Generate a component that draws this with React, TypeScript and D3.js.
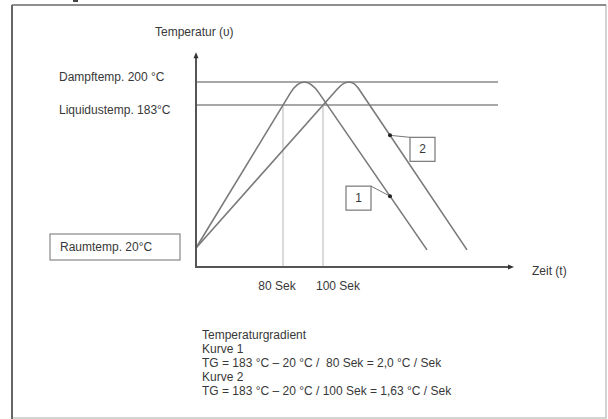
import React from "react";
import * as d3 from "d3";

// ---- data (schematic reflow profile) ----
const timeTicks = [80, 100];
const timeTickLabels = ["80 Sek", "100 Sek"];
const levelTemps = [200, 183];
const levelLabels = ["Dampftemp. 200 °C", "Liquidustemp. 183°C"];
const roomTemp = 20;
const roomLabel = "Raumtemp. 20°C";
const curveIds = ["1", "2"];
const curveStart: [number, number][] = [[0, 20], [0, 20]];
const curveApex: [number, number][] = [[90.4, 208.2], [113.3, 205.0]];
const curveEnd: [number, number][] = [[152, 18], [172, 18]];
const curvePeakTemp = [200, 200];
const markerTime = [133.5, 133.5];
const textLines = [
  "Temperaturgradient",
  "Kurve 1",
  "TG = 183 °C – 20 °C /  80 Sek = 2,0 °C / Sek",
  "Kurve 2",
  "TG = 183 °C – 20 °C / 100 Sek = 1,63 °C / Sek",
];
const axisTimeMax = 195.5;
const axisTempMax = 222;
const levelTimeMax = 187.5;

const W = 608;
const H = 419;

const x = d3.scaleLinear().domain([0, 80, 100, 200]).range([196, 283, 323, 523]);
const y = d3.scaleLinear().domain([0, 20, 183, 200]).range([267, 248, 105, 82]);

function curvePath(i: number): string {
  const s: [number, number] = [x(curveStart[i][0]), y(curveStart[i][1])];
  const a: [number, number] = [x(curveApex[i][0]), y(curveApex[i][1])];
  const e: [number, number] = [x(curveEnd[i][0]), y(curveEnd[i][1])];
  const yPeak = y(curvePeakTemp[i]);
  const Y = 2 * yPeak - a[1];
  const onLine = (p: [number, number], q: [number, number], yy: number): [number, number] => {
    const t = (yy - p[1]) / (q[1] - p[1]);
    return [p[0] + (q[0] - p[0]) * t, yy];
  };
  const b1 = onLine(s, a, Y);
  const b2 = onLine(a, e, Y);
  const p = d3.path();
  p.moveTo(s[0], s[1]);
  p.lineTo(b1[0], b1[1]);
  p.quadraticCurveTo(a[0], a[1], b2[0], b2[1]);
  p.lineTo(e[0], e[1]);
  return p.toString();
}

function markerPos(i: number): [number, number] {
  const a: [number, number] = [x(curveApex[i][0]), y(curveApex[i][1])];
  const e: [number, number] = [x(curveEnd[i][0]), y(curveEnd[i][1])];
  const mx = x(markerTime[i]);
  const t = (mx - a[0]) / (e[0] - a[0]);
  return [mx, a[1] + (e[1] - a[1]) * t];
}

const boxOffsets: [number, number][] = [[-44, -10], [20, 2]];
const boxAnchor: [number, number][] = [[25, 0], [0, 0]];

export default function App() {
  const font = "'Liberation Sans', Arial, sans-serif";
  const txt = "#383838";
  const x0 = x(0);
  const y0 = y(0);
  const xEnd = x(axisTimeMax);
  const yTop = y(axisTempMax);
  return (
    <svg width={W} height={H} style={{ position: "absolute", left: 0, top: 0, background: "#fff" }} fontFamily={font}>
      {/* frame */}
      <rect x={12} y={5} width={594} height={413} fill="none" stroke="#aaa" strokeWidth={1} />
      <line x1={12} y1={5} x2={12} y2={419} stroke="#666" strokeWidth={2} />
      <line x1={12} y1={5} x2={606} y2={5} stroke="#777" strokeWidth={1.5} />
      <rect x={73} y={0} width={5} height={2} fill="#444" />

      {/* level lines */}
      {levelTemps.map((t, i) => (
        <line key={"l" + i} x1={x0} x2={x(levelTimeMax)} y1={y(t)} y2={y(t)} stroke="#8a8a8a" strokeWidth={1.6} />
      ))}
      {/* vertical time markers */}
      {timeTicks.map((t, i) => (
        <line key={"v" + i} x1={x(t)} x2={x(t)} y1={y(183)} y2={y0} stroke="#b5b5b5" strokeWidth={1} />
      ))}

      {/* curves */}
      {curveIds.map((id, i) => (
        <path key={"c" + id} d={curvePath(i)} fill="none" stroke="#7a7a7a" strokeWidth={1.6} />
      ))}

      {/* axes */}
      <line x1={x0} y1={y0} x2={x0} y2={yTop + 4} stroke="#555" strokeWidth={2} />
      <path d={`M${x0},${yTop} L${x0 - 2.5},${yTop + 6} L${x0 + 2.5},${yTop + 6} Z`} fill="#333" />
      <line x1={x0 - 1} y1={y0} x2={xEnd - 4} y2={y0} stroke="#555" strokeWidth={2} />
      <path d={`M${xEnd},${y0} L${xEnd - 6},${y0 - 2.5} L${xEnd - 6},${y0 + 2.5} Z`} fill="#333" />

      {/* markers and callouts */}
      {curveIds.map((id, i) => {
        const [mx, my] = markerPos(i);
        const bx = mx + boxOffsets[i][0];
        const by = my + boxOffsets[i][1];
        return (
          <g key={"m" + id}>
            <line x1={bx + boxAnchor[i][0]} y1={by + boxAnchor[i][1]} x2={mx} y2={my} stroke="#777" strokeWidth={1} />
            <circle cx={mx} cy={my} r={2} fill="#222" />
            <rect x={bx} y={by} width={25} height={24} fill="#fff" stroke="#777" strokeWidth={1.2} />
            <text x={bx + 12.5} y={by + 16} textAnchor="middle" fontSize={12} fill={txt}>{id}</text>
          </g>
        );
      })}

      {/* axis titles */}
      <text x={155} y={36} fontSize={12} fill={txt}>Temperatur (υ)</text>
      <text x={532} y={275} fontSize={12} fill={txt}>Zeit (t)</text>

      {/* level labels */}
      {levelLabels.map((l, i) => (
        <text key={"ll" + i} x={59} y={y(levelTemps[i]) + (i === 0 ? -1 : 9)} fontSize={12} fill={txt}>{l}</text>
      ))}

      {/* room temp box */}
      <rect x={50} y={234} width={130} height={26} fill="#fff" stroke="#888" strokeWidth={1.2} />
      <text x={60} y={y(roomTemp) + 3} fontSize={12} fill={txt}>{roomLabel}</text>

      {/* time labels */}
      {timeTickLabels.map((l, i) => (
        <text key={"tl" + i} x={x(timeTicks[i]) + (i === 0 ? -6 : 15)} y={290} fontSize={12} fill={txt} textAnchor="middle">{l}</text>
      ))}

      {/* text block */}
      {textLines.map((l, i) => (
        <text key={"tb" + i} x={202} y={339 + i * 14} fontSize={12} fill={txt} style={{ whiteSpace: "pre" }}>{l}</text>
      ))}
    </svg>
  );
}
